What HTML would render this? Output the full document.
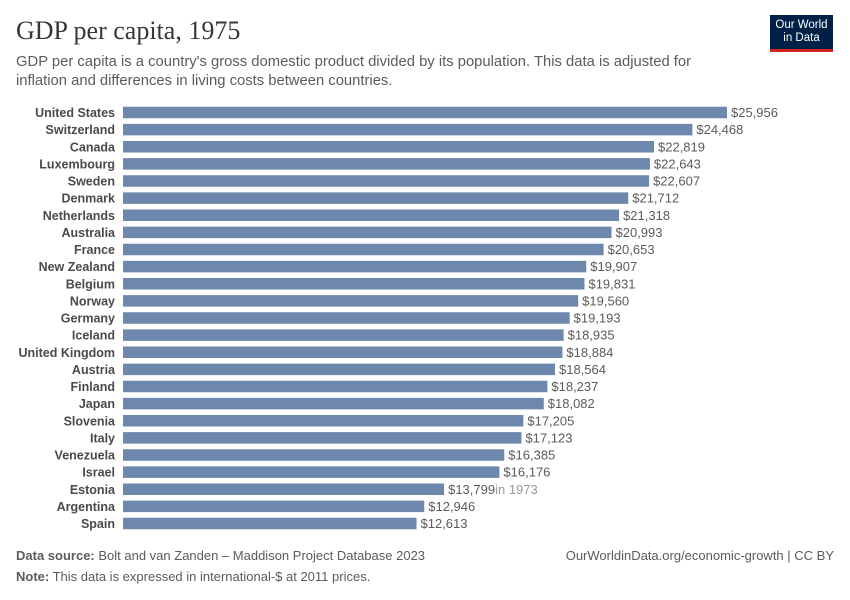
<!DOCTYPE html>
<html><head><meta charset="utf-8"><style>
body{margin:0;width:850px;height:600px;background:#fff;font-family:"Liberation Sans",sans-serif;position:relative;overflow:hidden}
.t{position:absolute;white-space:nowrap}
</style></head><body>
<div class="t" style="left:16px;top:16px;font-family:'Liberation Serif',serif;font-size:26px;color:#373737">GDP per capita, 1975</div>
<div class="t" style="left:16px;top:53px;font-size:14.8px;line-height:19px;color:#5b5b5b">GDP per capita is a country's gross domestic product divided by its population. This data is adjusted for<br>inflation and differences in living costs between countries.</div>
<div style="position:absolute;left:770px;top:15px;width:63px;height:37px;background:#002147;border-bottom:3px solid #ce261e;box-sizing:border-box;color:#fff;font-size:11.5px;line-height:13px;text-align:center;padding-top:4px">Our World<br>in Data</div>
<svg id="c" width="850" height="600" style="position:absolute;left:0;top:0"></svg>
<div class="t" style="left:16px;top:548px;font-size:13px;color:#5b5b5b"><b>Data source:</b> Bolt and van Zanden – Maddison Project Database 2023</div>
<div class="t" style="right:16px;top:548px;font-size:13px;color:#5b5b5b">OurWorldinData.org/economic-growth | CC BY</div>
<div class="t" style="left:16px;top:569px;font-size:13px;color:#5b5b5b"><b>Note:</b> This data is expressed in international-$ at 2011 prices.</div>
<script>
const countries=["United States","Switzerland","Canada","Luxembourg","Sweden","Denmark","Netherlands","Australia","France","New Zealand","Belgium","Norway","Germany","Iceland","United Kingdom","Austria","Finland","Japan","Slovenia","Italy","Venezuela","Israel","Estonia","Argentina","Spain"];
const values=[25956,24468,22819,22643,22607,21712,21318,20993,20653,19907,19831,19560,19193,18935,18884,18564,18237,18082,17205,17123,16385,16176,13799,12946,12613];
const notes=["","","","","","","","","","","","","","","","","","","","","","","in 1973","",""];
const svg=document.getElementById('c');const NS='http://www.w3.org/2000/svg';
const x0=123,xs=604/25956,y0=112.5,step=17.125,bh=11.5;
const X=v=>x0+v*xs, Y=i=>y0+i*step;
countries.forEach((c,i)=>{
 const r=document.createElementNS(NS,'rect');
 
 
 r.setAttribute('x',x0);r.setAttribute('y',Y(i)-bh/2);r.setAttribute('width',X(values[i])-x0);r.setAttribute('height',bh);r.setAttribute('fill','#6d87ad');svg.appendChild(r);
 const l=document.createElementNS(NS,'text');
 
 
 l.setAttribute('x',115);l.setAttribute('y',Y(i)+4.5);l.setAttribute('text-anchor','end');l.setAttribute('font-size','12.5');l.setAttribute('font-weight','bold');l.setAttribute('fill','#4a4a4a');l.textContent=c;svg.appendChild(l);
 const v=document.createElementNS(NS,'text');
 
 
 v.setAttribute('x',X(values[i])+4);v.setAttribute('y',Y(i)+4.5);v.setAttribute('font-size','13');v.setAttribute('fill','#5b5b5b');
 v.textContent='$'+values[i].toLocaleString('en-US');
 if(notes[i]){const s=document.createElementNS(NS,'tspan');s.setAttribute('fill','#999');s.textContent=notes[i];v.appendChild(s);}
 svg.appendChild(v);
});
</script>
</body></html>
